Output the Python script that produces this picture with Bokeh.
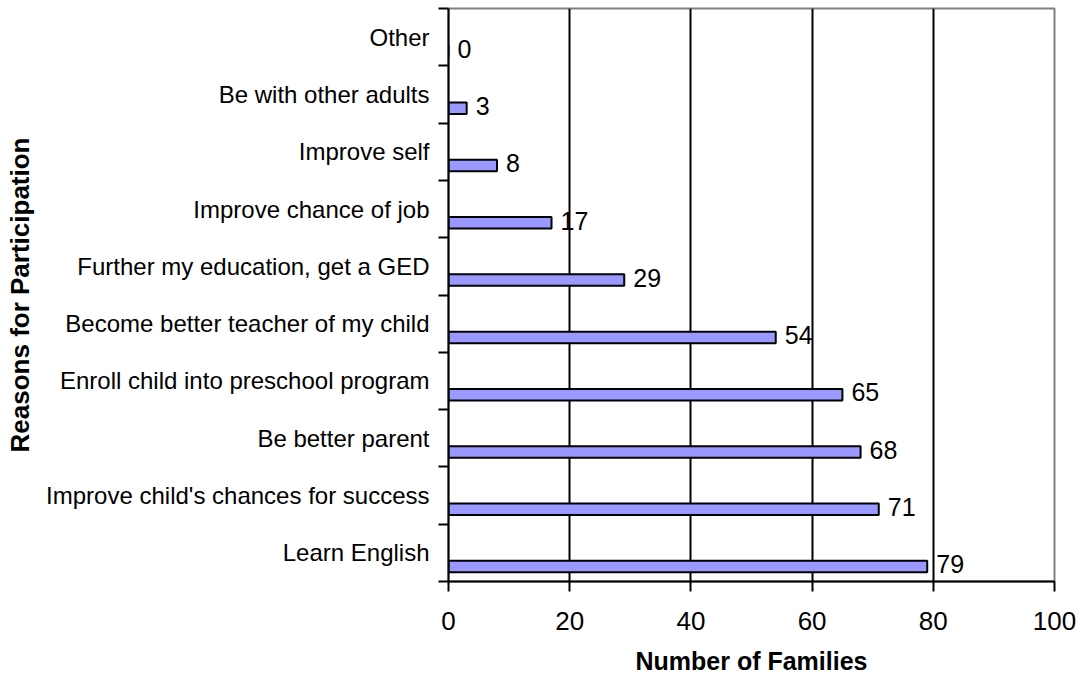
from bokeh.plotting import figure
from bokeh.models import Range1d, FixedTicker, ColumnDataSource, LinearAxis
from bokeh.core.properties import value
from bokeh.embed import file_html
from bokeh.resources import INLINE

# Reasons listed bottom-to-top
reasons = [
    "Learn English",
    "Improve child's chances for success",
    "Be better parent",
    "Enroll child into preschool program",
    "Become better teacher of my child",
    "Further my education, get a GED",
    "Improve chance of job",
    "Improve self",
    "Be with other adults",
    "Other",
]
families = [79, 71, 68, 65, 54, 29, 17, 8, 3, 0]
x_ticks = [0, 20, 40, 60, 80, 100]

FONT = "Liberation Sans"
n = len(reasons)
centers = [i + 0.5 for i in range(n)]
bar_y = [i + 0.26 for i in range(n)]

src = ColumnDataSource(dict(
    reason=reasons,
    families=families,
    y=bar_y,
    label_y=[b + 0.04 for b in bar_y],
    label=[str(v) for v in families],
))

p = figure(
    width=1086, height=683,
    x_range=Range1d(0, 100), y_range=Range1d(0, n),
    output_backend="svg", toolbar_location=None,
    min_border_left=448, min_border_right=32,
    min_border_top=8, min_border_bottom=102,
    x_axis_location=None, y_axis_location=None,
)
p.background_fill_color = "white"
p.border_fill_color = "white"
p.outline_line_color = "#808080"
p.outline_line_width = 2

# x axis
xaxis = LinearAxis(ticker=FixedTicker(ticks=x_ticks))
xaxis.axis_line_color = "black"
xaxis.axis_line_width = 2
xaxis.major_tick_line_color = "black"
xaxis.major_tick_line_width = 2
xaxis.major_tick_out = 10
xaxis.major_tick_in = 0
xaxis.minor_tick_line_color = None
xaxis.minor_tick_out = 0
xaxis.major_label_text_font = FONT
xaxis.major_label_text_font_size = "26px"
xaxis.major_label_text_color = "black"
xaxis.major_label_standoff = 20
xaxis.axis_label = "Number of Families"
xaxis.axis_label_text_font = FONT
xaxis.axis_label_text_font_size = "25px"
xaxis.axis_label_text_font_style = "bold"
xaxis.axis_label_text_color = "black"
xaxis.axis_label_standoff = 14
p.add_layout(xaxis, "below")

# y axis: labels at band centres, tick marks at band boundaries
overrides = {}
for c, r in zip(centers, reasons):
    overrides[c] = r
    overrides[str(c)] = r
yaxis = LinearAxis(ticker=FixedTicker(ticks=centers, minor_ticks=list(range(n + 1))))
yaxis.major_label_overrides = overrides
yaxis.axis_line_color = "black"
yaxis.axis_line_width = 2
yaxis.major_tick_out = 0
yaxis.major_tick_in = 0
yaxis.major_tick_line_color = None
yaxis.minor_tick_line_color = "black"
yaxis.minor_tick_line_width = 2
yaxis.minor_tick_out = 10
yaxis.minor_tick_in = 0
yaxis.major_label_text_font = FONT
yaxis.major_label_text_font_size = "24px"
yaxis.major_label_text_color = "black"
yaxis.major_label_standoff = 9
yaxis.axis_label = "Reasons for Participation"
yaxis.axis_label_text_font = FONT
yaxis.axis_label_text_font_size = "26px"
yaxis.axis_label_text_font_style = "bold"
yaxis.axis_label_text_color = "black"
yaxis.axis_label_standoff = 8
p.add_layout(yaxis, "left")

# vertical gridlines only
p.xgrid.ticker = FixedTicker(ticks=[20, 40, 60, 80])
p.xgrid.grid_line_color = "black"
p.xgrid.grid_line_width = 2
p.ygrid.grid_line_color = None

p.hbar(y="y", right="families", left=0, height=0.2, source=src,
       fill_color="#9999FF", line_color="black", line_width=2)

p.text(x="families", y="label_y", text="label", source=src,
       x_offset=9, text_align="left", text_baseline="middle",
       text_font=value(FONT), text_font_size="25px", text_color="black")

open("out.html", "w").write(file_html(p, INLINE))
